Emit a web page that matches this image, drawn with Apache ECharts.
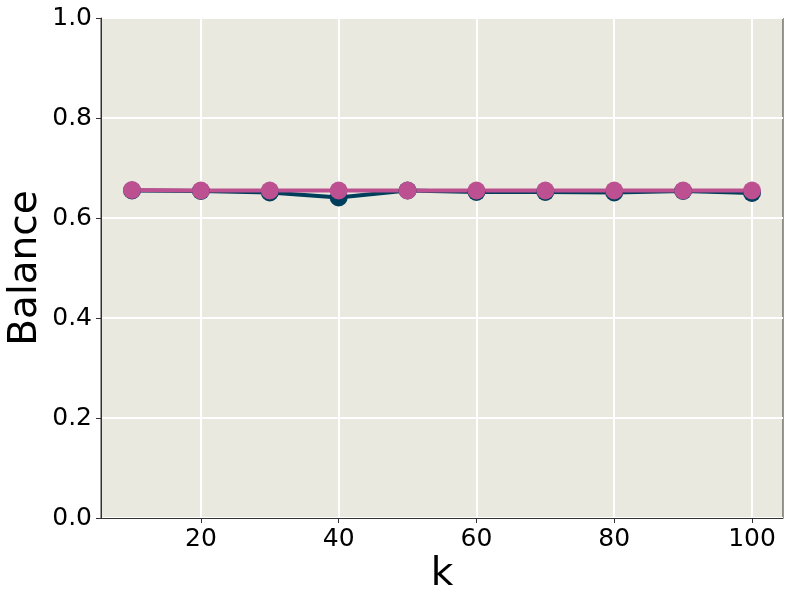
<!DOCTYPE html>
<html>
<head>
<meta charset="utf-8">
<script src="https://cdn.jsdelivr.net/npm/echarts@6/dist/echarts.min.js"></script>
<style>
  html, body { margin: 0; padding: 0; background: #fff; }
</style>
</head>
<body>
<div id="chart" style="width: 793px; height: 604px;"></div>
<script>
// k values on the x axis
var kValues = [10, 20, 30, 40, 50, 60, 70, 80, 90, 100]
// balance, dark series (drawn first, underneath)
var balanceDark = [0.655, 0.654, 0.651, 0.641, 0.655, 0.652, 0.652, 0.651, 0.654, 0.650]
// balance, pink series (drawn on top)
var balancePink = [0.656, 0.655, 0.655, 0.655, 0.655, 0.655, 0.655, 0.655, 0.655, 0.655]
var xTicks = [20, 40, 60, 80, 100]

var myChart = echarts.init(document.getElementById('chart'))
var font = 'DejaVu Sans'

var option = {
  animation: false,
  grid: {
    left: 101,
    right: 10,
    top: 18,
    bottom: 86,
    outerBoundsMode: 'none',
    containLabel: false,
    show: true,
    backgroundColor: '#eae9df',
    borderColor: '#333',
    borderWidth: 1
  },
  xAxis: {
    type: 'value',
    min: 5.5,
    max: 104.5,
    name: 'k',
    nameLocation: 'middle',
    nameGap: 37,
    nameMoveOverlap: false,
    nameTextStyle: { fontFamily: font, fontSize: 39, color: '#000' },
    axisLine: { show: true, lineStyle: { color: '#333', width: 1 } },
    axisTick: { show: true, length: 5, customValues: xTicks, lineStyle: { color: '#333' } },
    axisLabel: { customValues: xTicks, fontFamily: font, fontSize: 25, color: '#000', margin: 9 },
    splitLine: { show: true, lineStyle: { color: '#fff', width: 2 } }
  },
  yAxis: {
    type: 'value',
    min: 0,
    max: 1,
    interval: 0.2,
    name: 'Balance',
    nameLocation: 'middle',
    nameGap: 56,
    nameMoveOverlap: false,
    nameTextStyle: { fontFamily: font, fontSize: 39, color: '#000' },
    axisLine: { show: true, lineStyle: { color: '#333', width: 1 } },
    axisTick: { show: true, length: 5, lineStyle: { color: '#333' } },
    axisLabel: {
      fontFamily: font, fontSize: 25, color: '#000', margin: 9,
      formatter: function (v) { return v.toFixed(1) }
    },
    splitLine: { show: true, lineStyle: { color: '#fff', width: 2 } }
  },
  series: [
    {
      name: 'dark',
      type: 'line',
      data: kValues.map(function (k, i) { return [k, balanceDark[i]] }),
      symbol: 'circle',
      symbolSize: 18,
      lineStyle: { width: 4, color: '#003f5c' },
      itemStyle: { color: '#003f5c' }
    },
    {
      name: 'pink',
      type: 'line',
      data: kValues.map(function (k, i) { return [k, balancePink[i]] }),
      symbol: 'circle',
      symbolSize: 18,
      lineStyle: { width: 4, color: '#bc5090' },
      itemStyle: { color: '#bc5090' }
    }
  ]
}

option && myChart.setOption(option)
</script>
</body>
</html>
